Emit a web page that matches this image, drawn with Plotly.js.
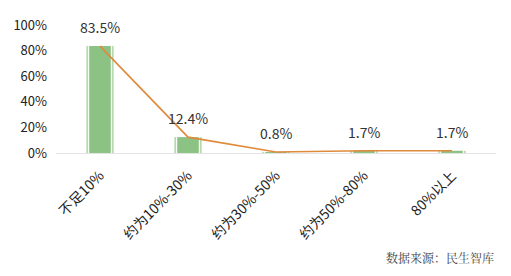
<!DOCTYPE html>
<html><head><meta charset="utf-8">
<script src="https://cdn.plot.ly/plotly-3.0.1.min.js"></script>
<style>html,body{margin:0;padding:0;background:#fff;}#c{width:511px;height:276px;}</style>
</head><body><div id="c"></div>
<script>
const categories = ["不足10%", "约为10%-30%", "约为30%-50%", "约为50%-80%", "80%以上"];
const values = [83.5, 12.4, 0.8, 1.7, 1.7];
const labels = ["83.5%", "12.4%", "0.8%", "1.7%", "1.7%"];
const yTicks = [0, 20, 40, 60, 80, 100];
const yTickText = ["0%", "20%", "40%", "60%", "80%", "100%"];

const font = "'Microsoft YaHei','Noto Sans CJK SC', 'DejaVu Sans', sans-serif";
const traces = [
  {type:"bar", x:categories, y:values, width:0.31, marker:{color:"#b5d9ac"}, hoverinfo:"skip"},
  {type:"bar", x:categories, y:values, width:0.27, marker:{color:"#ffffff"}, hoverinfo:"skip"},
  {type:"bar", x:categories, y:values, width:0.245, marker:{color:"#8cc283"}, hoverinfo:"skip"},
  {type:"scatter", mode:"lines", x:categories, y:values, line:{color:"#e08a3c", width:1.6}, hoverinfo:"skip"}
];
const anns = categories.map((c, i) => ({
  x:c, y:values[i], xref:"x", yref:"y", text:labels[i], showarrow:false,
  yanchor:"middle", yshift:19, font:{family:font, size:14, color:"#333"}
}));
anns.push({text:"数据来源：民生智库", xref:"paper", yref:"paper", x:1, y:-0.82, xanchor:"right", yanchor:"middle",
    showarrow:false, font:{family:"'Noto Serif CJK SC','Noto Sans CJK SC', serif", size:12, color:"#444"}});
const layout = {
  width:511, height:276, showlegend:false, barmode:"overlay",
  paper_bgcolor:"#fff", plot_bgcolor:"#fff",
  margin:{l:56, r:15, t:25, b:123},
  xaxis:{type:"category", range:[-0.5,4.5], tickangle:-45, showgrid:false, zeroline:false,
         showline:true, linecolor:"#e3e3e3", ticks:"", ticklabelstandoff:8,
         tickfont:{family:font, size:14, color:"#222"}},
  yaxis:{range:[0,100], tickvals:yTicks, ticktext:yTickText, showgrid:false, zeroline:false,
         showline:false, ticks:"", ticklabelstandoff:8, tickfont:{family:font, size:13, color:"#222"}},
  annotations:anns
};
Plotly.newPlot("c", traces, layout, {displayModeBar:false, staticPlot:true});
</script></body></html>
